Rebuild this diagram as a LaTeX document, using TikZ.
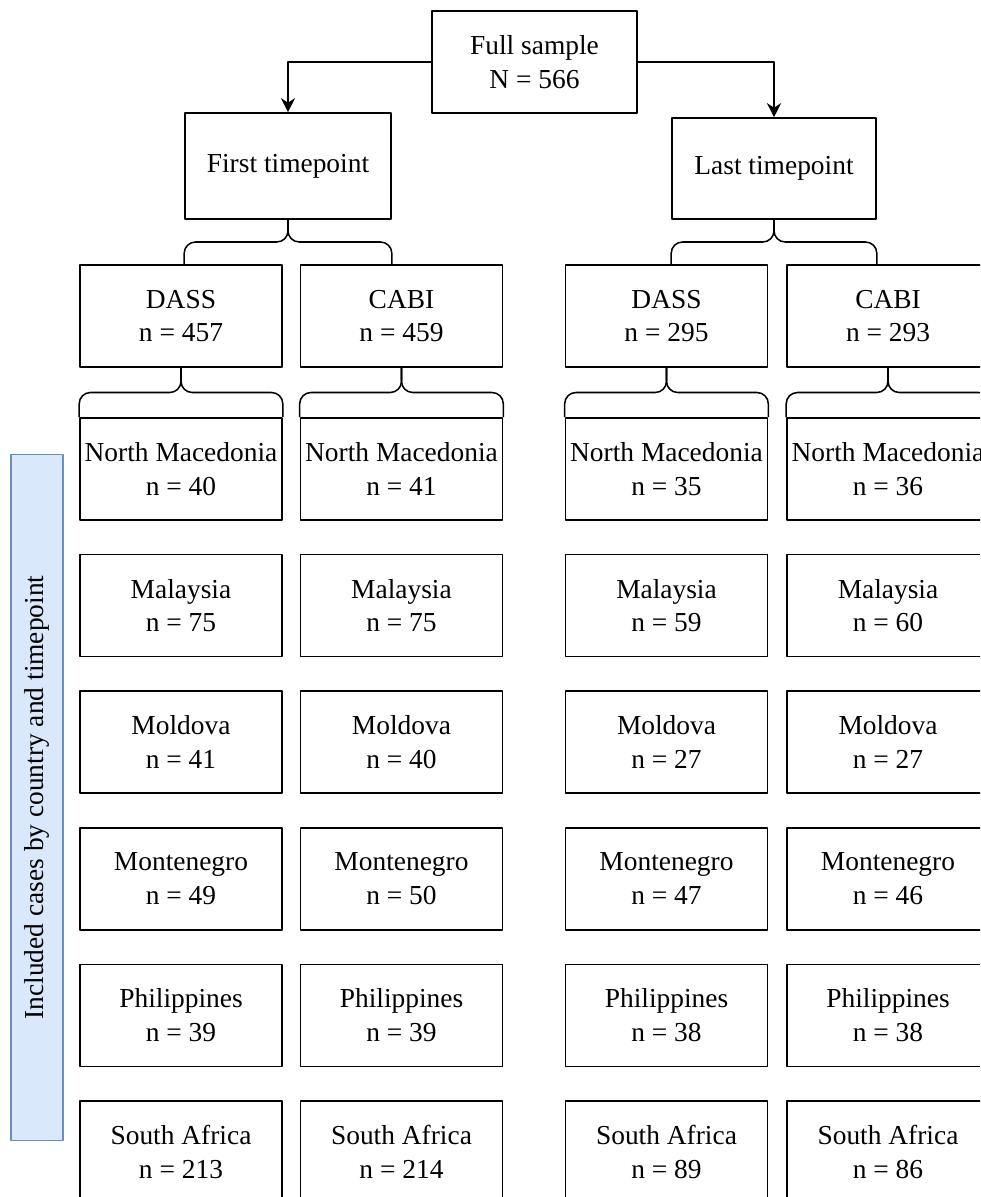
\documentclass[tikz,border=0pt]{standalone}
\usepackage{fontspec}
\setmainfont{Liberation Serif}
\usetikzlibrary{arrows.meta,calc}
\definecolor{sidefill}{HTML}{DAE8FC}
\definecolor{sideline}{HTML}{6C8EBF}

\begin{document}
\begin{tikzpicture}[x=0.025cm, y=-0.025cm, line width=1.1pt, line join=round, >={Stealth[length=10pt,width=10pt]},
	font=\fontsize{19.5}{24}\selectfont,
	box/.style={draw, align=center, inner sep=0pt, minimum width=5.05cm, minimum height=2.55cm},
	sidebox/.style={draw=sideline, fill=sidefill, line width=0.8pt, rotate=90, inner sep=0pt,
		minimum width=17.125cm, minimum height=1.3cm}]
	\def\xa{181}\def\xb{401.5}\def\xc{666.5}\def\xd{888}
	\useasboundingbox (0,0) rectangle (980,1197);
	\clip (0,0) rectangle (980,1197);
	% top of the tree
	\node[box, minimum width=5.125cm] (fs) at (534.5,62) {Full sample\\N = 566};
	\node[box, minimum width=5.15cm, minimum height=2.65cm] (ft) at (288,166) {First timepoint};
	\node[box, minimum width=5.1cm, minimum height=2.525cm] (lt) at (774,168.5) {Last timepoint};
	\draw[->] (fs.west) -| (ft.north);
	\draw[->] (fs.east) -| (lt.north);
	% instruments
	\node[box] (dassA) at (\xa,316) {DASS\\n = 457};
	\node[box] (cabiA) at (\xb,316) {CABI\\n = 459};
	\node[box] (dassB) at (\xc,316) {DASS\\n = 295};
	\node[box] (cabiB) at (\xd,316) {CABI\\n = 293};
	% countries
	\foreach \cname/\na/\nb/\nc/\nd [count=\r] in {North Macedonia/40/41/35/36, Malaysia/75/75/59/60,
		Moldova/41/40/27/27, Montenegro/49/50/47/46, Philippines/39/39/38/38, South Africa/213/214/89/86} {
		\node[box] (c\r-a) at (\xa,{469+(\r-1)*136.6}) {\cname\\n = \na};
		\node[box] (c\r-b) at (\xb,{469+(\r-1)*136.6}) {\cname\\n = \nb};
		\node[box] (c\r-c) at (\xc,{469+(\r-1)*136.6}) {\cname\\n = \nc};
		\node[box] (c\r-d) at (\xd,{469+(\r-1)*136.6}) {\cname\\n = \nd};
	}
	% braces
	\foreach \p/\q in {ft/dassA, lt/dassB, dassA/c1-a, cabiA/c1-b, dassB/c1-c, cabiB/c1-d} {
		\coordinate (m) at ($(\p.south)!0.5!(\q.north)$);
		\draw[rounded corners=8pt] (\p.south west |- \q.north) |- (\p.south |- m) -- (\p.south);
		\draw[rounded corners=8pt] (\p.south east |- \q.north) |- (\p.south |- m) -- (\p.south);
	}
	\node[sidebox] (side) at (37,797.5) {Included cases by country and timepoint};
\end{tikzpicture}
\end{document}
